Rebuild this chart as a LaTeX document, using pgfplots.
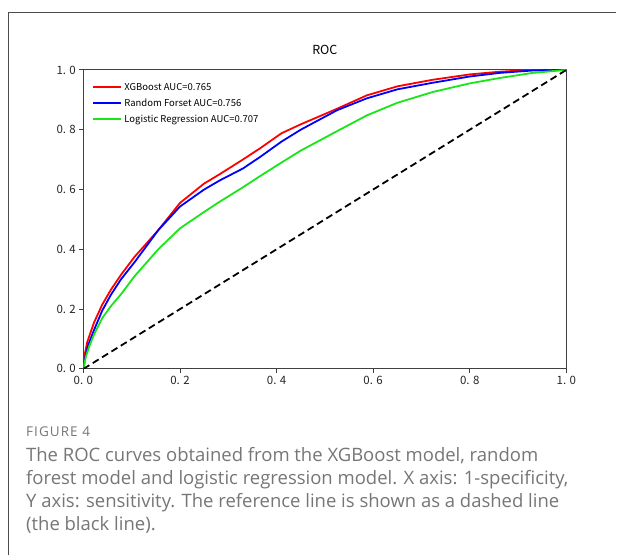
\documentclass[border=0pt]{standalone}
\usepackage{fontspec}
\usepackage{pgfplots}
\pgfplotsset{compat=1.18}
\setmainfont{Open Sans}
\newfontfamily\capfont[LetterSpace=8]{Open Sans}
\newfontfamily\cjk{Noto Sans CJK SC}
\definecolor{capgray}{HTML}{767676}
\definecolor{rocgreen}{RGB}{25,230,25}

\begin{document}
\begin{tikzpicture}[x=1pt,y=1pt]
% page and the partial frame round the figure
\fill[white] (0,0) rectangle (617,556);
\draw[line width=1.4pt, black!70] (8.3,0) -- (8.3,543.7) -- (617,543.7);
\coordinate (origin) at (83.5,186.7);

\begin{axis}[
  at={(origin)}, anchor=south west,
  scale only axis, width=483.5pt, height=299.3pt,
  xmin=0, xmax=1, ymin=0, ymax=1,
  xtick={0,0.2,0.4,0.6,0.8,1}, ytick={0,0.2,0.4,0.6,0.8,1},
  xticklabels={0. 0,0. 2,0. 4,0. 6,0. 8,1. 0},
  yticklabels={0. 0,0. 2,0. 4,0. 6,0. 8,1. 0},
  ticklabel style={font=\cjk\fontsize{11.5}{12}\selectfont, text=black!85},
  xtick pos=bottom, ytick pos=left,
  tick align=outside, major tick length=4pt,
  tick style={black!75, line width=0.9pt},
  axis line style={black!75, line width=1pt},
  title={ROC},
  title style={font=\cjk\fontsize{12.5}{12}\selectfont, at={(0.5,1)}, anchor=base, yshift=9pt},
  legend style={draw=none, fill=none, at={(rel axis cs:0,1)}, anchor=north west,
    font=\cjk\fontsize{9.5}{11}\selectfont, xshift=6pt, yshift=-9pt,
    row sep=3pt},
  legend cell align=left,
  legend image code/.code={\draw[#1] (0pt,0pt) -- (28pt,0pt);},
]
\addplot[red, line width=1.8pt] coordinates {
  (0,0) (0.003,0.05) (0.008,0.09) (0.022,0.155) (0.039,0.215) (0.057,0.265)
  (0.078,0.315) (0.106,0.375) (0.155,0.464) (0.2,0.555) (0.25,0.62)
  (0.283,0.652) (0.33,0.70) (0.366,0.738) (0.41,0.788) (0.45,0.818)
  (0.525,0.87) (0.587,0.915) (0.65,0.945) (0.723,0.967) (0.8,0.985)
  (0.862,0.994) (0.93,1.0) (1,1)
};
\addplot[blue, line width=1.8pt] coordinates {
  (0,0) (0.004,0.04) (0.01,0.08) (0.022,0.13) (0.039,0.195) (0.057,0.248)
  (0.078,0.30) (0.106,0.357) (0.155,0.464) (0.2,0.543) (0.25,0.60)
  (0.283,0.631) (0.33,0.67) (0.366,0.709) (0.41,0.76) (0.45,0.80)
  (0.525,0.865) (0.587,0.905) (0.65,0.935) (0.723,0.957) (0.8,0.978)
  (0.862,0.99) (0.93,0.998) (1,1)
};
\addplot[rocgreen, line width=1.8pt] coordinates {
  (0,0) (0.005,0.04) (0.012,0.075) (0.022,0.115) (0.039,0.17) (0.057,0.21)
  (0.078,0.25) (0.106,0.31) (0.155,0.40) (0.2,0.47) (0.25,0.525)
  (0.283,0.56) (0.33,0.607) (0.366,0.645) (0.41,0.69) (0.45,0.73)
  (0.525,0.795) (0.587,0.848) (0.65,0.89) (0.723,0.926) (0.8,0.955)
  (0.862,0.973) (0.93,0.99) (1,1)
};
\addplot[black, line width=1.8pt, dash pattern=on 7pt off 4pt, forget plot] coordinates {
  (0,0) (1,1)
};
\legend{XGBoost AUC=0.765, Random Forset AUC=0.756, Logistic Regression AUC=0.707}
\end{axis}

% caption
\node[anchor=base west, inner sep=0, text=capgray, font=\capfont\fontsize{13.5}{14}\selectfont]
  at (26,119) {FIGURE 4};
\begin{scope}[every node/.style={anchor=base west, inner sep=0, text=capgray,
    font=\fontsize{18.5}{23}\selectfont}]
\node at (26,94) {The ROC curves obtained from the XGBoost model, random};
\node at (26,71) {forest model and logistic regression model. X axis: 1-specificity,};
\node at (26,48) {Y axis: sensitivity. The reference line is shown as a dashed line};
\node at (26,25) {(the black line).};
\end{scope}
\end{tikzpicture}
\end{document}
